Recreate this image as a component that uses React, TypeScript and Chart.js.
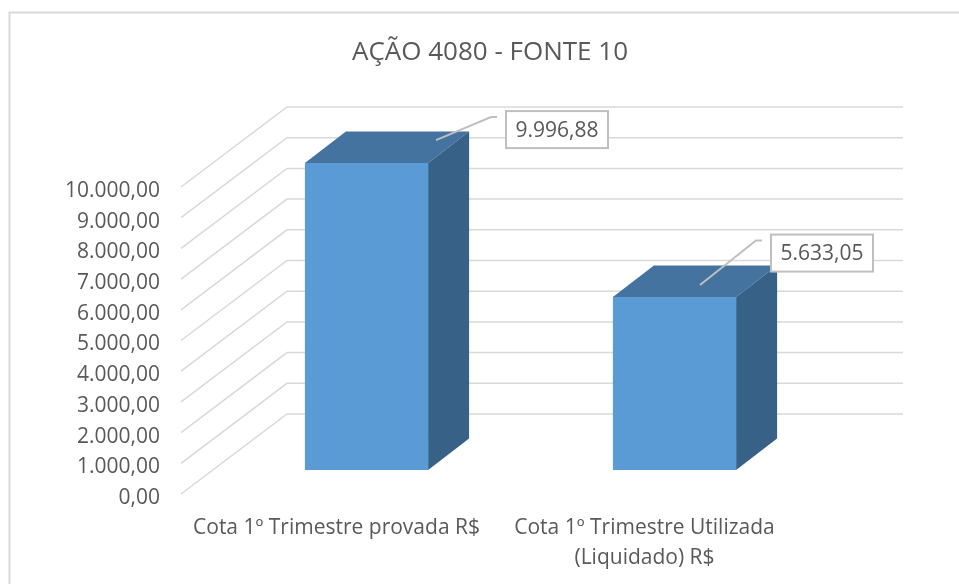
import React, { useEffect, useRef } from "react";
import { Chart, registerables } from "chart.js";

Chart.register(...registerables);

const titleText = "AÇÃO 4080 - FONTE 10";
const categories: string[][] = [
  ["Cota 1º Trimestre provada R$"],
  ["Cota 1º Trimestre Utilizada", "(Liquidado) R$"],
];
const values = [9996.88, 5633.05];
const yMin = 0;
const yMax = 10000;
const yStep = 1000;

const TEXT = "#595959";
const GRID = "#D9D9D9";
const FONT = "'Open Sans', sans-serif";

const WALL = { dx: 106, dy: -80 };
const BAR_SHIFT = { dx: 31.5, dy: -24 };
const BAR_DEPTH = { dx: 41, dy: -31.5 };
const LABEL_LAYOUT = [
  { box: [190.5, -33.5], anchor: [69.5, -23] },
  { box: [147.5, -44], anchor: [25.5, -12] },
];

const fmt = (v: number) =>
  v.toLocaleString("pt-BR", { minimumFractionDigits: 2, maximumFractionDigits: 2 });

const frame3d = {
  id: "frame3d",
  beforeDraw(chart: any) {
    const { ctx, width, height } = chart;
    ctx.save();
    ctx.fillStyle = "#fff";
    ctx.fillRect(0, 0, width, height);
    ctx.strokeStyle = GRID;
    ctx.lineWidth = 2;
    ctx.beginPath();
    ctx.moveTo(9.5, height);
    ctx.lineTo(9.5, 12.5);
    ctx.lineTo(width, 12.5);
    ctx.stroke();
    ctx.restore();
  },
  afterLayout(chart: any) {
    chart.titleBlock.left = 0;
    chart.titleBlock.right = 980;
  },
  beforeDatasetsDraw(chart: any) {
    const { ctx, chartArea, scales } = chart;
    ctx.save();
    ctx.strokeStyle = GRID;
    ctx.lineWidth = 1.5;
    scales.y.ticks.forEach((t: any) => {
      const y = scales.y.getPixelForValue(t.value);
      ctx.beginPath();
      ctx.moveTo(chartArea.left, y);
      ctx.lineTo(chartArea.left + WALL.dx, y + WALL.dy);
      ctx.lineTo(chartArea.right + WALL.dx, y + WALL.dy);
      ctx.stroke();
    });
    ctx.restore();
  },
  beforeDatasetDraw(chart: any, args: any) {
    const { ctx } = chart;
    ctx.save();
    ctx.translate(BAR_SHIFT.dx, BAR_SHIFT.dy);
    args.meta.data.forEach((bar: any) => {
      const { x, y, base, width } = bar.getProps(["x", "y", "base", "width"], true);
      const l = x - width / 2;
      const r = x + width / 2;
      ctx.fillStyle = "#44739F";
      ctx.beginPath();
      ctx.moveTo(l, y);
      ctx.lineTo(l + BAR_DEPTH.dx, y + BAR_DEPTH.dy);
      ctx.lineTo(r + BAR_DEPTH.dx, y + BAR_DEPTH.dy);
      ctx.lineTo(r, y);
      ctx.closePath();
      ctx.fill();
      ctx.fillStyle = "#376187";
      ctx.beginPath();
      ctx.moveTo(r, y);
      ctx.lineTo(r + BAR_DEPTH.dx, y + BAR_DEPTH.dy);
      ctx.lineTo(r + BAR_DEPTH.dx, base + BAR_DEPTH.dy);
      ctx.lineTo(r, base);
      ctx.closePath();
      ctx.fill();
    });
  },
  afterDatasetDraw(chart: any) {
    chart.ctx.restore();
  },
  afterDatasetsDraw(chart: any) {
    const { ctx } = chart;
    const meta = chart.getDatasetMeta(0);
    ctx.save();
    ctx.font = `21px ${FONT}`;
    meta.data.forEach((bar: any, i: number) => {
      const { x, y } = bar.getProps(["x", "y"], true);
      const topX = x + BAR_SHIFT.dx;
      const topY = y + BAR_SHIFT.dy;
      const layout = LABEL_LAYOUT[i];
      const cx = topX + layout.box[0];
      const cy = topY + layout.box[1];
      const text = fmt(values[i]);
      const w = 102;
      const h = 37;
      const left = cx - w / 2;
      ctx.strokeStyle = "#BFBFBF";
      ctx.lineWidth = 2;
      ctx.beginPath();
      ctx.moveTo(topX + layout.anchor[0], topY + layout.anchor[1]);
      ctx.lineTo(left - 15, cy - 12.5);
      ctx.lineTo(left - 9, cy - 12.5);
      ctx.stroke();
      ctx.fillStyle = "#fff";
      ctx.fillRect(left, cy - h / 2, w, h);
      ctx.strokeRect(left, cy - h / 2, w, h);
      ctx.fillStyle = TEXT;
      ctx.textAlign = "center";
      ctx.textBaseline = "middle";
      ctx.fillText(text, cx, cy + 1);
    });
    ctx.restore();
  },
};

export default function App() {
  const ref = useRef<HTMLCanvasElement | null>(null);
  useEffect(() => {
    const chart = new Chart(ref.current as HTMLCanvasElement, {
      type: "bar",
      data: {
        labels: categories as any,
        datasets: [
          {
            data: values,
            backgroundColor: "#5B9BD5",
            barPercentage: 0.4,
            categoryPercentage: 1,
            clip: false as any,
          },
        ],
      },
      plugins: [frame3d as any],
      options: {
        responsive: false,
        animation: false,
        layout: { padding: { left: 0, right: 162, top: 0, bottom: 0 } },
        plugins: {
          legend: { display: false },
          tooltip: { enabled: false },
          title: {
            display: true,
            text: titleText,
            color: TEXT,
            font: { family: FONT, size: 26, weight: "normal", lineHeight: 1.2 },
            padding: { top: 37, bottom: 118.8 },
          },
        },
        scales: {
          x: {
            grid: { display: false },
            border: { display: false },
            afterFit: (s: any) => {
              s.height = 90;
            },
            ticks: {
              color: TEXT,
              font: { family: FONT, size: 21, lineHeight: 1.43 },
              padding: 11,
              labelOffset: 1.5,
              maxRotation: 0,
              autoSkip: false,
            },
          },
          y: {
            min: yMin,
            max: yMax,
            grid: { display: false },
            border: { display: false },
            afterFit: (s: any) => {
              s.width = 181;
            },
            ticks: {
              stepSize: yStep,
              color: TEXT,
              font: { family: FONT, size: 21 },
              padding: 13,
              labelOffset: 4,
              callback: (v: any) => fmt(Number(v)),
            },
          },
        },
      },
    });
    return () => chart.destroy();
  }, []);
  return (
    <div style={{ position: "absolute", left: 0, top: 0, width: 959, height: 584 }}>
      <canvas ref={ref} width={959} height={584} style={{ display: "block" }} />
    </div>
  );
}
